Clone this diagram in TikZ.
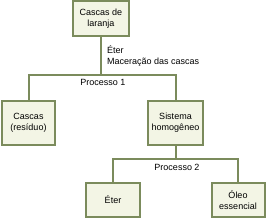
\documentclass[tikz,border=0pt]{standalone}
\usepackage{fontspec}
\setmainfont{Liberation Sans}
\definecolor{edgecol}{HTML}{7B8B5C}
\definecolor{boxfill}{HTML}{F3F5E5}
\begin{document}
\begin{tikzpicture}[x=1pt,y=-1pt,
  box/.style={draw=edgecol,fill=boxfill,line width=2pt,minimum width=#1,align=center,inner sep=0pt,font=\fontsize{9}{11}\selectfont},
  conn/.style={draw=edgecol,line width=2pt},
  lbl/.style={font=\fontsize{9}{11}\selectfont,inner sep=0pt}]
\useasboundingbox (0,0) rectangle (267,219);
\node[box=56pt,minimum height=35pt] (top) at (101,18.5) {Cascas de\\laranja};
\node[box=53pt,minimum height=44pt] (left) at (28.5,123) {Cascas\\(resíduo)};
\node[box=55pt,minimum height=44pt] (mid) at (175.5,123) {Sistema\\homogêneo};
\node[box=54pt,minimum height=34pt] (eter) at (113,200) {Éter};
\node[box=53pt,minimum height=34pt] (oleo) at (238,200) {Óleo\\essencial};
\coordinate (j1) at (101,75);
\coordinate (j2) at (175.5,159);
\draw[conn] (top.south) -- (j1);
\draw[conn] (left.north) |- (j1) -| (mid.north);
\draw[conn] (mid.south) -- (j2);
\draw[conn] (eter.north) |- (j2) -| (oleo.north);
\node[lbl,anchor=west,align=left] (l1) at (107,56) {Éter\\Maceração das cascas};
\node[lbl] (p1) at (103,82.5) {Processo 1};
\node[lbl] (p2) at (177,167) {Processo 2};
\end{tikzpicture}
\end{document}
